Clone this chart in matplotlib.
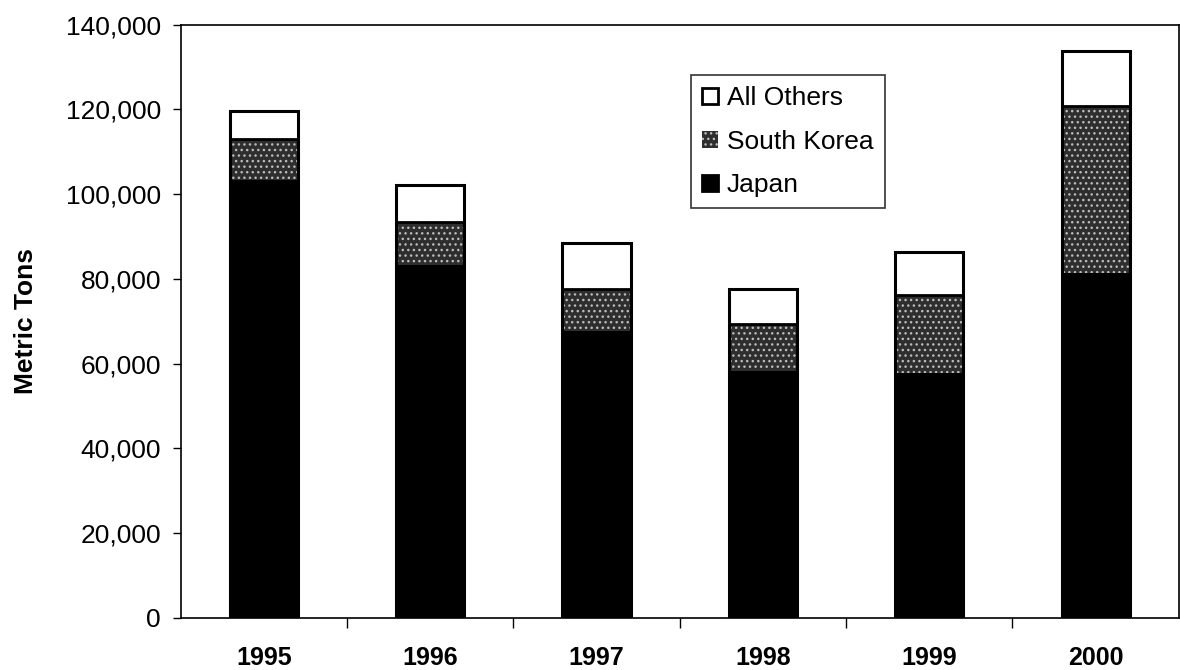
import numpy as np
import matplotlib.pyplot as plt
from matplotlib.ticker import FuncFormatter

plt.rcParams['font.family'] = ['Liberation Sans', 'DejaVu Sans']
plt.rcParams['hatch.linewidth'] = 1.0

years = ['1995', '1996', '1997', '1998', '1999', '2000']
japan = [103300, 83200, 67800, 58300, 57800, 81500]
korea = [9800, 10200, 9900, 11100, 18500, 39400]
others = [6500, 8700, 10700, 8300, 10000, 13000]

x = np.arange(len(years))
japan = np.array(japan)
korea = np.array(korea)
others = np.array(others)
w = 0.41

fig = plt.figure(figsize=(11.8, 6.7), dpi=100)
ax = fig.add_axes([0.153, 0.078, 0.846, 0.885])

b1 = ax.bar(x, japan, w, color='black', edgecolor='black', lw=2, label='Japan')
b2 = ax.bar(x, korea, w, bottom=japan, color='#2e2e2e', edgecolor='#bbbbbb',
            hatch='...', lw=0, label='South Korea')
b3 = ax.bar(x, others, w, bottom=japan + korea, color='white',
            edgecolor='black', lw=2, label='All Others')
# outline of the whole stack
ax.bar(x, japan + korea + others, w, fill=False, edgecolor='black', lw=2.2)

ax.set_xlim(-0.5, len(years) - 0.5)
ax.set_ylim(0, 140000)
ax.set_yticks(np.arange(0, 140001, 20000))
ax.yaxis.set_major_formatter(FuncFormatter(lambda v, p: '{:,.0f}'.format(v)))
ax.tick_params(axis='y', labelsize=19, length=6, width=1, direction='out', pad=8)

ax.set_xticks(x)
ax.set_xticklabels(years, fontsize=18, fontweight='bold')
ax.tick_params(axis='x', length=0, pad=20)
ax.set_xticks(np.arange(0.5, len(years) - 0.5), minor=True)
ax.tick_params(axis='x', which='minor', length=7, width=1, direction='out')

ax.set_ylabel('Metric Tons', fontsize=19, fontweight='bold', labelpad=20)

for s in ax.spines.values():
    s.set_linewidth(1.2)

leg = ax.legend(handles=[b3, b2, b1], loc='upper left',
                bbox_to_anchor=(0.511, 0.915), fontsize=19, frameon=True,
                fancybox=False, edgecolor='black', handlelength=0.6,
                handleheight=0.6, handletextpad=0.35, labelspacing=0.74,
                borderpad=0.42, borderaxespad=0)
leg.get_frame().set_linewidth(1.2)

fig.savefig('out.png')
